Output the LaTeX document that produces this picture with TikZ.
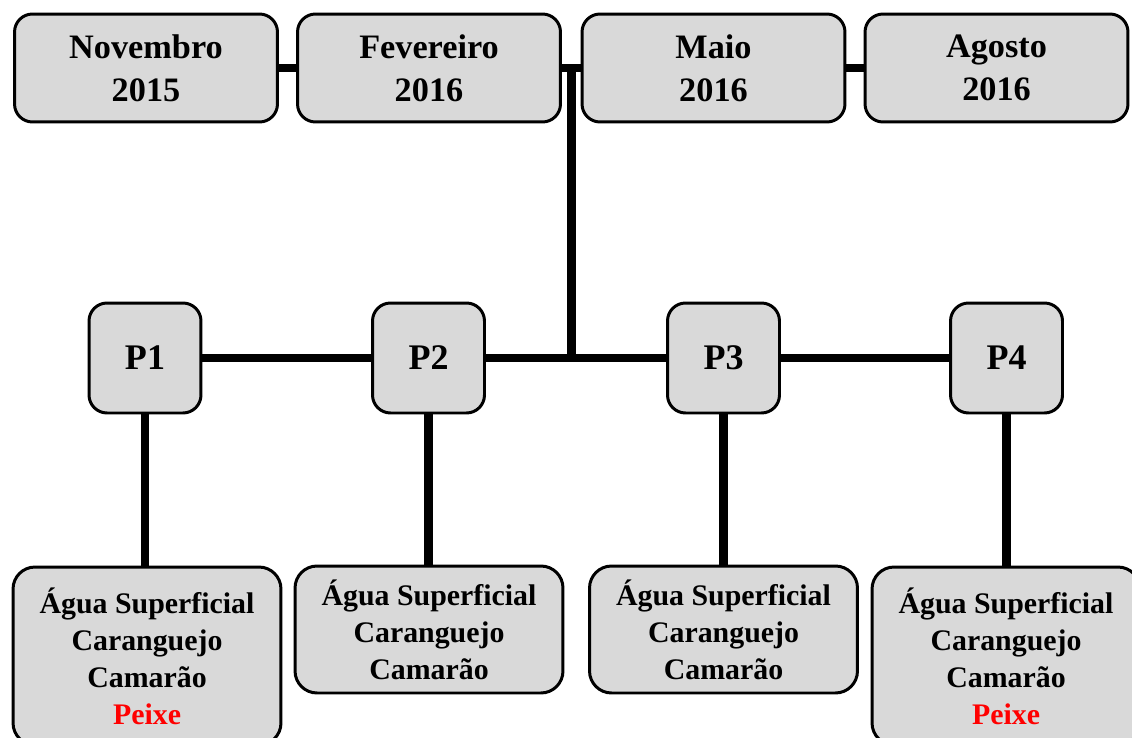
\documentclass[tikz,border=0pt]{standalone}
\usepackage{fontspec}
\setmainfont{Liberation Serif}
\usepackage{xcolor}
\usetikzlibrary{positioning,calc}
\definecolor{boxgray}{RGB}{217,217,217}

\begin{document}
\begin{tikzpicture}[x=0.02cm, y=-0.02cm,
    box/.style={draw, line width=1.7pt, fill=boxgray, rounded corners=0.36cm,
      align=center, inner sep=0pt, font=\bfseries\fontsize{19.5}{24.4}\selectfont},
    datebox/.style={box, minimum width=5.26cm, minimum height=2.16cm},
    pbox/.style={box, minimum width=2.24cm, minimum height=2.2cm,
      font=\bfseries\fontsize{20.5}{24}\selectfont},
    sample/.style={box, minimum width=5.36cm, rounded corners=0.44cm,
      font=\bfseries\fontsize{17}{21}\selectfont},
    link/.style={line width=5.1pt}]
  \useasboundingbox (0,0) rectangle (1132,737);

  % campaigns
  \node[datebox] (nov) at (146,68)   {Novembro\\2015};
  \node[datebox] (fev) at (429,68)   {Fevereiro\\2016};
  \node[datebox] (mai) at (713.5,68) {Maio\\2016};
  \node[datebox] (ago) at (996.5,68) {Agosto\\2016};

  % sampling points
  \foreach \x [count=\i] in {145,428.5,723.5,1006.5}
    \node[pbox] (p\i) at (\x,358) {P\i};

  % samples
  \node[sample, minimum height=3.56cm] (s1) at (147,656)
    {Água Superficial\\Caranguejo\\Camarão\\\textcolor{red}{Peixe}};
  \node[sample, minimum height=2.54cm] (s2) at (429,629.5)
    {Água Superficial\\Caranguejo\\Camarão};
  \node[sample, minimum height=2.54cm] (s3) at (723.5,629.5)
    {Água Superficial\\Caranguejo\\Camarão};
  \node[sample, minimum height=3.56cm] (s4) at (1006,656)
    {Água Superficial\\Caranguejo\\Camarão\\\textcolor{red}{Peixe}};

  % connectors
  \draw[link] (nov) -- (fev);
  \draw[link] (fev) -- (mai);
  \draw[link] (mai) -- (ago);
  \draw[link] (p1) -- (p2);
  \draw[link] (p2) -- (p3);
  \draw[link] (p3) -- (p4);
  \coordinate (hub) at ($(fev.east)!0.5!(mai.west)$);
  \draw[link] (hub) -- (hub |- p2.east);
  \foreach \i in {1,...,4}
    \draw[link] (p\i.south) -- (p\i.south |- s\i.north);
\end{tikzpicture}
\end{document}
